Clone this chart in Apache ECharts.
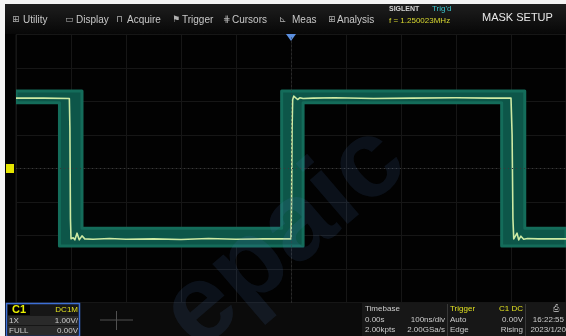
<!DOCTYPE html>
<html><head><meta charset="utf-8">
<script src="https://cdn.jsdelivr.net/npm/echarts@6/dist/echarts.min.js"></script>
<style>html,body{margin:0;padding:0;background:#fff}#c{width:566px;height:336px}</style>
</head><body><div id="c"></div>
<script>
// Time in ns (100 ns/div, 0 = trigger), amplitude in V (1.00 V/div)
const timeMin = -500, timeMax = 500, timeStep = 100;
const voltMin = -4, voltMax = 4, voltStep = 1;

// Captured trace (C1)
const traceTime = [-500,-450,-403,-402,-401,-400,-396,-393,-389,-385,-380,-375,-360,-330,-300,-250,-200,-150,-100,-50,-5,0,1,2,3,5,8,12,16,22,40,80,150,220,300,360,400,401,402,403.5,405,408,411,414,418,423,430,450,500];
const traceVolt = [2.10,2.10,2.09,1.2,-1.5,-2.10,-2.07,-2.13,-1.93,-2.13,-2.01,-2.10,-2.11,-2.09,-2.11,-2.10,-2.12,-2.09,-2.11,-2.10,-2.10,-2.10,-1.0,1.2,2.05,2.16,2.12,2.06,2.11,2.09,2.10,2.11,2.09,2.10,2.11,2.10,2.10,2.09,1.0,-1.5,-2.10,-2.05,-1.93,-2.13,-2.02,-2.11,-2.09,-2.10,-2.10];

// Pass/fail mask: upper and lower boundaries
const maskUpperTime = [-500,-380,-380,-17,-17,425,425,500];
const maskUpperVolt = [2.31,2.31,-1.78,-1.78,2.31,2.31,-1.78,-1.78];
const maskLowerTime = [-500,-421,-421,22,22,383,383,500];
const maskLowerVolt = [1.96,1.96,-2.31,-2.31,1.96,1.96,-2.31,-2.31];

const menuItems = [['⊞',12,'Utility',23],['▭',65,'Display',76],['⊓',116,'Acquire',127],['⚑',172,'Trigger',182],['⋕',223,'Cursors',232],['⊾',279,'Meas',292],['⊞',328,'Analysis',337]];

const chart = echarts.init(document.getElementById('c'), null, {renderer:'canvas'});
const FONT = 'Liberation Sans, Arial, sans-serif';
const g = [];
// screen backgrounds
g.push({type:'rect', shape:{x:5,y:4,width:561,height:30}, style:{fill:new echarts.graphic.LinearGradient(0,0,0,1,[{offset:0,color:'#1e1e1e'},{offset:1,color:'#070707'}])}, z:-1});
g.push({type:'rect', shape:{x:5,y:302,width:561,height:34}, style:{fill:'#0b0b0b'}, z:-1});
g.push({type:'rect', shape:{x:0,y:0,width:566,height:4}, style:{fill:'#f4f4f4'}, z:50});
g.push({type:'rect', shape:{x:0,y:0,width:5,height:336}, style:{fill:'#f4f4f4'}, z:50});
menuItems.forEach(m=>{
  g.push({type:'text', x:m[1], y:20, style:{text:m[0], fill:'#b0b0b0', font:'9px DejaVu Sans', verticalAlign:'middle'}, z:5});
  g.push({type:'text', x:m[3], y:20, style:{text:m[2], fill:'#c8c8c8', font:'10px '+FONT, verticalAlign:'middle'}, z:5});
});
g.push({type:'text', x:389, y:9, style:{text:'SIGLENT', fill:'#d4d4d4', font:'bold 7px '+FONT, verticalAlign:'middle'}, z:5});
g.push({type:'text', x:432, y:9, style:{text:"Trig'd", fill:'#3cc8d0', font:'8px '+FONT, verticalAlign:'middle'}, z:5});
g.push({type:'text', x:389, y:21, style:{text:'f = 1.250023MHz', fill:'#d8d830', font:'8px '+FONT, verticalAlign:'middle'}, z:5});
g.push({type:'text', x:482, y:18, style:{text:'MASK SETUP', fill:'#e8e8e8', font:'11px '+FONT, verticalAlign:'middle'}, z:5});
// trigger position marker and channel offset marker
g.push({type:'polygon', shape:{points:[[286,34],[296,34],[291,41]]}, style:{fill:'#5b8fe0'}, z:5});
g.push({type:'rect', shape:{x:6,y:164,width:8,height:9}, style:{fill:'#e4e400'}, z:5});
// C1 box
g.push({type:'rect', shape:{x:6.5,y:303.5,width:73,height:33}, style:{fill:'#161616', stroke:'#3d6fd6', lineWidth:1.5}, z:4});
g.push({type:'rect', shape:{x:8,y:305,width:22,height:10}, style:{fill:'#000'}, z:5});
g.push({type:'rect', shape:{x:8,y:316,width:70,height:9}, style:{fill:'#2a2a2a'}, z:5});
g.push({type:'rect', shape:{x:8,y:326,width:70,height:9}, style:{fill:'#2a2a2a'}, z:5});
const t = (x,y,s,c,size,align,weight)=>g.push({type:'text', x:x, y:y, style:{text:s, fill:c, font:(weight||'')+' '+size+'px '+FONT, verticalAlign:'middle', align:align||'left'}, z:6});
t(12,310,'C1','#e8f000',11,'left','bold');
t(78,310,'DC1M','#e0e020',8,'right');
t(9,320.5,'1X','#cccccc',8);
t(78,320.5,'1.00V/','#cccccc',8,'right');
t(9,330.5,'FULL','#cccccc',8);
t(78,330.5,'0.00V','#cccccc',8,'right');
// empty channel crosshair
g.push({type:'line', shape:{x1:100,y1:320,x2:133,y2:320}, style:{stroke:'#505050', lineWidth:1}, z:5});
g.push({type:'line', shape:{x1:116.5,y1:311,x2:116.5,y2:330}, style:{stroke:'#505050', lineWidth:1}, z:5});
// status panel
g.push({type:'rect', shape:{x:362,y:303,width:204,height:33}, style:{fill:'#171717'}, z:4});
g.push({type:'line', shape:{x1:447.5,y1:304,x2:447.5,y2:336}, style:{stroke:'#383838'}, z:5});
g.push({type:'line', shape:{x1:525.5,y1:304,x2:525.5,y2:336}, style:{stroke:'#383838'}, z:5});
t(365,309,'Timebase','#cccccc',8);
t(365,319.5,'0.00s','#cccccc',8);
t(445,319.5,'100ns/div','#cccccc',8,'right');
t(365,329.5,'2.00kpts','#cccccc',8);
t(445,329.5,'2.00GSa/s','#cccccc',8,'right');
t(450,309,'Trigger','#e0e020',8);
t(523,309,'C1 DC','#e0e020',8,'right');
t(450,319.5,'Auto','#cccccc',8);
t(523,319.5,'0.00V','#cccccc',8,'right');
t(450,329.5,'Edge','#cccccc',8);
t(523,329.5,'Rising','#cccccc',8,'right');
t(564,319.5,'16:22:55','#cccccc',8,'right');
t(566,329.5,'2023/1/20','#cccccc',8,'right');
t(556,309,'⎙','#aaaaaa',8,'center');
// faint watermark
g.push({type:'text', x:285, y:238, rotation:0.71, style:{text:'epaic', fill:'rgba(80,120,190,0.13)', font:'bold 110px '+FONT, align:'center', verticalAlign:'middle'}, z:40, silent:true});

const option = {
  backgroundColor:'#020202',
  animation:false,
  grid:{left:16, right:0, top:34.5, bottom:33.5, show:true, borderColor:'#181818', borderWidth:1},
  xAxis:{type:'value', min:timeMin, max:timeMax, interval:timeStep, axisLine:{show:false}, axisTick:{show:false}, axisLabel:{show:false}, splitLine:{show:true, lineStyle:{color:'#161616', width:1}}},
  yAxis:{type:'value', min:voltMin, max:voltMax, interval:voltStep, axisLine:{show:false}, axisTick:{show:false}, axisLabel:{show:false}, splitLine:{show:true, lineStyle:{color:'#161616', width:1}}},
  graphic:g,
  series:[
    {type:'line', data:[], z:1, silent:true,
     markLine:{silent:true, symbol:'none', label:{show:false}, lineStyle:{color:'#3a3a3a', type:[1,3], width:1}, data:[{xAxis:0},{yAxis:0}]}},
    {type:'custom', coordinateSystem:'cartesian2d', data:[[0,0]], clip:true, z:2, silent:true,
     renderItem:function(params, api){
       const pts=[];
       for(let i=0;i<maskUpperTime.length;i++) pts.push(api.coord([maskUpperTime[i], maskUpperVolt[i]]));
       for(let i=maskLowerTime.length-1;i>=0;i--) pts.push(api.coord([maskLowerTime[i], maskLowerVolt[i]]));
       return {type:'polygon', shape:{points:pts}, style:{fill:'#0d5649', stroke:'#146c5a', lineWidth:3, lineJoin:'round'}};
     }},
    {type:'line', data:traceTime.map((x,i)=>[x,traceVolt[i]]), z:3, showSymbol:false, symbol:'none', silent:true,
     lineStyle:{color:'#cdeaa4', width:1.6, join:'round'}}
  ]
};
chart.setOption(option);
</script></body></html>
